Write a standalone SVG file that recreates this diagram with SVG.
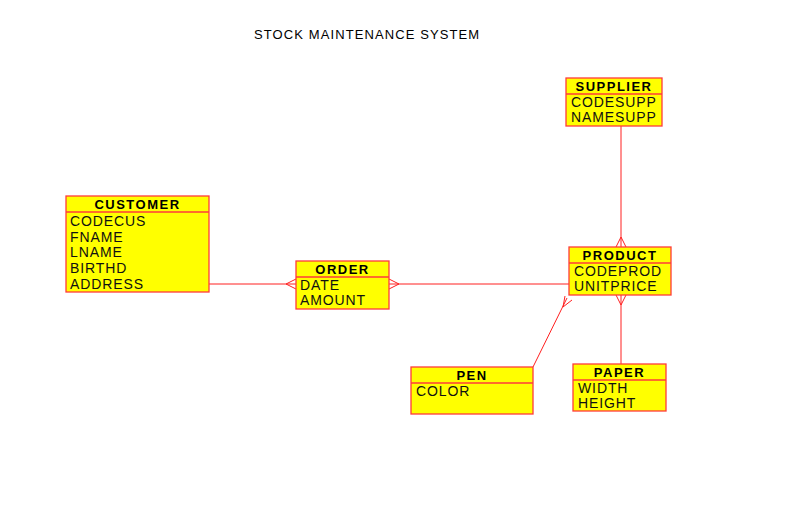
<svg xmlns="http://www.w3.org/2000/svg" width="804" height="505" viewBox="0 0 804 505">
<style>
.box{fill:#ffff00;stroke:#ff3b3b;stroke-width:1.3}
.sep{stroke:#ff3b3b;stroke-width:1.3}
.hd{font-family:"Liberation Sans",Arial,sans-serif;font-size:13px;font-weight:bold;letter-spacing:1.5px;text-anchor:middle;fill:#000}
.at{font-family:"Liberation Sans",Arial,sans-serif;font-size:14px;letter-spacing:0.9px;fill:#111}
.ttl{font-family:"Liberation Sans",Arial,sans-serif;font-size:13px;letter-spacing:1.1px;fill:#000}
.cn{stroke:#ff2020;stroke-width:1;fill:none}
</style>
<rect width="804" height="505" fill="#fff"/>
<text class="ttl" x="254" y="39">STOCK MAINTENANCE SYSTEM</text>
<g id="connectors">
<path class="cn" d="M209,284H296 M286,284L296,279 M286,284L296,289"/>
<path class="cn" d="M389,284H569 M399,284L389,279 M399,284L389,289"/>
<path class="cn" d="M621,126V247 M621,237L616,247 M621,237L626,247"/>
<path class="cn" d="M621,295V364 M621,305L616,295 M621,305L626,295"/>
<path class="cn" d="M533,367L567,298 M563,307L565,296 M563,307L572,300"/>
</g>
<g id="customer">
<rect class="box" x="66" y="196" width="143" height="96"/>
<line class="sep" x1="66" y1="212" x2="209" y2="212"/>
<text class="hd" x="137.5" y="209">CUSTOMER</text>
<text class="at" x="70" y="226">CODECUS</text>
<text class="at" x="70" y="242">FNAME</text>
<text class="at" x="70" y="257">LNAME</text>
<text class="at" x="70" y="273">BIRTHD</text>
<text class="at" x="70" y="289">ADDRESS</text>
</g>
<g id="order">
<rect class="box" x="296" y="261" width="93" height="48"/>
<line class="sep" x1="296" y1="277" x2="389" y2="277"/>
<text class="hd" x="342.5" y="274">ORDER</text>
<text class="at" x="300" y="290">DATE</text>
<text class="at" x="300" y="305">AMOUNT</text>
</g>
<g id="supplier">
<rect class="box" x="566" y="78" width="96" height="48"/>
<line class="sep" x1="566" y1="94" x2="662" y2="94"/>
<text class="hd" x="614" y="91">SUPPLIER</text>
<text class="at" x="571" y="107">CODESUPP</text>
<text class="at" x="571" y="122">NAMESUPP</text>
</g>
<g id="product">
<rect class="box" x="569" y="247" width="102" height="48"/>
<line class="sep" x1="569" y1="263" x2="671" y2="263"/>
<text class="hd" x="620" y="260">PRODUCT</text>
<text class="at" x="574" y="276">CODEPROD</text>
<text class="at" x="574" y="291">UNITPRICE</text>
</g>
<g id="pen">
<rect class="box" x="411" y="367" width="122" height="47"/>
<line class="sep" x1="411" y1="383" x2="533" y2="383"/>
<text class="hd" x="472" y="380">PEN</text>
<text class="at" x="416" y="396">COLOR</text>
</g>
<g id="paper">
<rect class="box" x="573" y="364" width="93" height="47"/>
<line class="sep" x1="573" y1="380" x2="666" y2="380"/>
<text class="hd" x="619.5" y="377">PAPER</text>
<text class="at" x="578" y="393">WIDTH</text>
<text class="at" x="578" y="408">HEIGHT</text>
</g>
</svg>
